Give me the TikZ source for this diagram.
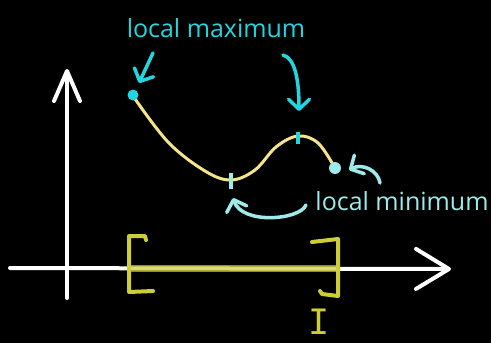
\documentclass[tikz,border=0pt]{standalone}
\usepackage{fontspec}
\setmainfont{Open Sans}
\newfontfamily\ifont{DejaVu Sans Mono}
\usetikzlibrary{arrows.meta,positioning}
\definecolor{maxCyan}{HTML}{22D6E0}
\definecolor{minCyan}{HTML}{9EEBEB}
\definecolor{curveYellow}{HTML}{F5E48C}
\definecolor{ivYellow}{HTML}{CDCD35}

\begin{document}
\begin{tikzpicture}[x=1pt,y=-1pt,
    axisline/.style={white,line width=4pt,line cap=round},
    bracket/.style={ivYellow,line width=4pt,line cap=round,line join=round},
    pointer/.style={line width=3.5pt,line cap=round,-{Straight Barb[length=10pt,width=21pt,round]}},
    dot/.style={circle,inner sep=0pt,minimum size=#1},
    tickmark/.style={line width=3.5pt},
    lbl/.style={font=\fontsize{25}{28}\selectfont,anchor=base}]
    \fill[black] (0,0) rectangle (491,343);
    \useasboundingbox (0,0) rectangle (491,343);
    % axes
    \coordinate (ybot) at (67,298);
    \coordinate (ytop) at (67,69);
    \coordinate (xleft) at (10,268);
    \coordinate (xright) at (451,269);
    \draw[axisline,-{Straight Barb[length=30pt,width=26pt,round]}] (ybot) -- (ytop);
    \draw[axisline,-{Straight Barb[length=33pt,width=40pt,round]}] (xleft) -- (xright);
    % interval I
    \draw[ivYellow,opacity=.7,line width=7pt] (130,268) -- (336,268);
    \draw[bracket] (146,240) -- (145,236) -- (129,236) -- (129,292) -- (153,291);
    \draw[bracket] (312,242) -- (338,239) -- (338,296) -- (322,294) -- (320,291);
    \node[ivYellow,font=\ifont\fontsize{35}{38}\selectfont,anchor=base,inner sep=0pt] (ilbl) at (319,334) {I};
    % the function
    \draw[curveYellow,line width=3pt,line cap=round] plot[smooth,tension=.6] coordinates {(133,96) (168,142) (205,171) (231,180) (255,170) (276,147) (298,136) (318,143) (335,168)};
    \node[dot=11pt,fill=maxCyan] (start) at (133,95) {};
    \node[dot=12pt,fill=minCyan] (stop) at (335,168) {};
    \coordinate (lmax) at (298,138);
    \coordinate (lmin) at (231,181);
    \draw[tickmark,maxCyan] ([yshift=6]lmax) -- ([yshift=-6]lmax);
    \draw[tickmark,minCyan] ([yshift=8]lmin) -- ([yshift=-8]lmin);
    % labels
    \node[lbl,maxCyan] (maxlbl) at (216,37) {local maximum};
    \node[lbl,minCyan] (minlbl) at (402,210) {local minimum};
    \coordinate (p1) at (153,53);
    \coordinate (p1end) at (139,83);
    \coordinate (p2) at (283,55);
    \coordinate (p2end) at (299,111);
    \coordinate (p3) at (380,183);
    \coordinate (p3end) at (349,170);
    \coordinate (p4) at (306,205);
    \coordinate (p4end) at (233,198);
    \draw[pointer,maxCyan] (p1) -- (p1end);
    \draw[pointer,maxCyan] (p2) .. controls (295,58) and (299,80) .. (p2end);
    \draw[pointer,minCyan] (p3) .. controls (378,170) and (362,163) .. (p3end);
    \draw[pointer,minCyan] (p4) .. controls (300,220) and (242,225) .. (p4end);
\end{tikzpicture}
\end{document}
